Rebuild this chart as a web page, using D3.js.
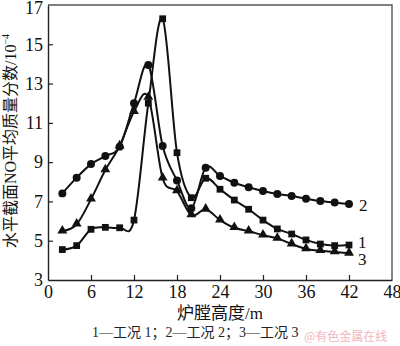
<!DOCTYPE html>
<html>
<head>
<meta charset="utf-8">
<script src="https://cdn.jsdelivr.net/npm/d3@7/dist/d3.min.js"></script>
<style>
  html, body { margin: 0; padding: 0; background: #fff; }
  svg { display: block; }
  .serif { font-family: "Liberation Serif", "Noto Sans CJK SC", serif; }
</style>
</head>
<body>
<svg id="chart" width="400" height="346"></svg>
<script>
// Furnace height (m) at each measuring section
const heights = [2, 4, 6, 8, 10, 12, 14, 16, 18, 20, 22, 24, 26, 28, 30, 32, 34, 36, 38, 40, 42];

// Average NO mass fraction (10^-4) on horizontal cross sections
const case1 = [4.55, 4.75, 5.58, 5.68, 5.66, 6.05, 12.0, 16.3, 9.48, 7.19, 8.18, 7.62, 7.07, 6.6, 6.05, 5.6, 5.34, 5.04, 4.83, 4.75, 4.78];
const case2 = [7.41, 8.21, 8.9, 9.31, 9.79, 12.0, 13.95, 9.82, 8.06, 6.65, 8.72, 8.3, 7.95, 7.72, 7.53, 7.38, 7.28, 7.14, 7.02, 6.94, 6.87];
const case3 = [5.49, 5.84, 7.11, 8.6, 9.82, 11.57, 12.3, 8.18, 7.53, 6.31, 6.6, 6.05, 5.66, 5.49, 5.28, 5.12, 4.83, 4.58, 4.49, 4.43, 4.36];

const seriesLabels = ["1", "2", "3"];
const xTicks = [0, 6, 12, 18, 24, 30, 36, 42, 48];
const yTicks = [3, 5, 7, 9, 11, 13, 15, 17];

const svg = d3.select("#chart");
const plotL = 48, plotR = 392, plotT = 5, plotB = 280;

const x = d3.scaleLinear().domain([0, 48]).range([plotL, plotR]);
const y = d3.scaleLinear().domain([3, 17]).range([plotB, plotT]);

// frame (top and right sides)
svg.append("path")
  .attr("d", `M${plotL},${plotT}H${plotR}V${plotB}`)
  .attr("fill", "none").attr("stroke", "#555").attr("stroke-width", 1.4);

// axes with inward ticks
const xAxis = svg.append("g").attr("transform", `translate(0,${plotB})`)
  .call(d3.axisBottom(x).tickValues(xTicks).tickSizeInner(-5).tickSizeOuter(0).tickPadding(5));
const yAxis = svg.append("g").attr("transform", `translate(${plotL},0)`)
  .call(d3.axisLeft(y).tickValues(yTicks).tickSizeInner(-5).tickSizeOuter(0).tickPadding(9));

[xAxis, yAxis].forEach(g => {
  g.select(".domain").attr("stroke", "#222").attr("stroke-width", 1.4);
  g.selectAll(".tick line").attr("stroke", "#222").attr("stroke-width", 1.2);
  g.selectAll(".tick text")
    .attr("class", "serif")
    .attr("font-size", 18).attr("fill", "#111");
});
xAxis.selectAll(".tick text").attr("y", 5).attr("dy", "0.71em");
yAxis.selectAll(".tick text").attr("x", -5);
// the top label sits against the page edge; nudge it down a little
yAxis.selectAll(".tick text").filter(d => d === 17).attr("dy", "0.45em");
// hide ticks at the corners
xAxis.selectAll(".tick line").filter(d => d === 0 || d === 48).remove();
yAxis.selectAll(".tick line").filter(d => d === 3 || d === 17).remove();

const line = d3.line()
  .x(d => x(d[0]))
  .y(d => y(d[1]))
  .curve(d3.curveCardinal.tension(0));

const allSeries = [
  { vals: case1, marker: "square" },
  { vals: case2, marker: "circle" },
  { vals: case3, marker: "triangle" }
];

const plot = svg.append("g");
allSeries.forEach(s => {
  const pts = heights.map((h, i) => [h, s.vals[i]]);
  plot.append("path")
    .attr("d", line(pts))
    .attr("fill", "none").attr("stroke", "#111").attr("stroke-width", 2);
});

const symbolType = { square: d3.symbolSquare, circle: d3.symbolCircle, triangle: d3.symbolTriangle };
const symbolSize = { square: 46, circle: 50, triangle: 42 };
allSeries.forEach(s => {
  const sym = d3.symbol().type(symbolType[s.marker]).size(symbolSize[s.marker]);
  plot.selectAll(null).data(heights.map((h, i) => [h, s.vals[i]]))
    .enter().append("path")
    .attr("d", sym)
    .attr("transform", d => `translate(${x(d[0])},${y(d[1]) + (s.marker === "triangle" ? -0.5 : 0)})`)
    .attr("fill", "#111");
});

// curve numbers beside the last points
const lastIdx = heights.length - 1;
const labelOffsets = [[9, -3], [10, 1], [9, 6]];
allSeries.forEach((s, i) => {
  svg.append("text")
    .attr("class", "serif")
    .attr("x", x(heights[lastIdx]) + labelOffsets[i][0])
    .attr("y", y(s.vals[lastIdx]) + labelOffsets[i][1])
    .attr("dy", "0.35em")
    .attr("font-size", 17).attr("fill", "#111")
    .text(seriesLabels[i]);
});

// axis titles
svg.append("text")
  .attr("class", "serif")
  .attr("x", 220).attr("y", 319)
  .attr("text-anchor", "middle")
  .attr("font-size", 17).attr("fill", "#111")
  .text("炉膛高度/m");

const yTitle = svg.append("text")
  .attr("class", "serif")
  .attr("transform", "translate(16,141) rotate(-90)")
  .attr("text-anchor", "middle")
  .attr("font-size", 16).attr("fill", "#111");
yTitle.append("tspan").text("水平截面NO平均质量分数/10");
yTitle.append("tspan").attr("dy", -7).attr("font-size", 10).text("−4");

// legend caption
svg.append("text")
  .attr("class", "serif")
  .attr("x", 92).attr("y", 337)
  .attr("font-size", 14).attr("fill", "#222")
  .text("1—工况 1；2—工况 2；3—工况 3");

svg.append("text")
  .attr("x", 304).attr("y", 341)
  .attr("font-family", "Noto Sans CJK SC, sans-serif")
  .attr("font-size", 12).attr("fill", "#f2b5c0")
  .text("@有色金属在线");
</script>
</body>
</html>
